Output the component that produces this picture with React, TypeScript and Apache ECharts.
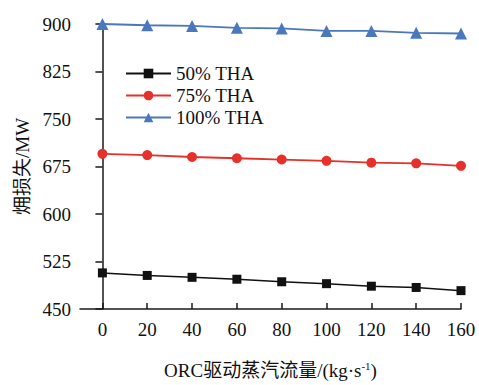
import { useEffect, useRef } from "react";
import * as echarts from "echarts";

// ORC driving steam flow rate (kg/s)
const flowRates = [0, 20, 40, 60, 80, 100, 120, 140, 160];

// Exergy loss (MW) at each turbine heat acceptance load
const tha50 = [507, 503, 500, 497, 493, 490, 486, 484, 479];
const tha75 = [695, 693, 690, 688, 686, 684, 681, 680, 676];
const tha100 = [900, 898, 897, 894, 893, 889, 889, 886, 885];

const seriesNames = ["50% THA", "75% THA", "100% THA"];

const FONT = "Liberation Serif, Noto Sans CJK SC, serif";
const AXIS_COLOR = "#1a1a1a";

export default function App() {
  const ref = useRef<HTMLDivElement>(null);

  useEffect(() => {
    if (!ref.current) return;
    const chart = echarts.init(ref.current, undefined, { renderer: "svg" });

    const toPoints = (vals: number[]) => flowRates.map((x, i) => [x, vals[i]]);

    chart.setOption({
      animation: false,
      backgroundColor: "#ffffff",
      grid: { left: 80, right: 18, top: 24, bottom: 71, containLabel: false },
      legend: {
        orient: "vertical",
        left: 120,
        top: 59,
        itemWidth: 45,
        itemHeight: 12,
        itemGap: 3,
        data: seriesNames,
        textStyle: { fontFamily: FONT, fontSize: 19, color: "#111" },
      },
      xAxis: {
        type: "value",
        min: -10,
        max: 160,
        name: "ORC驱动蒸汽流量/(kg·s{sup|-1})",
        nameLocation: "middle",
        nameGap: 51,
        nameTextStyle: {
          fontFamily: FONT,
          fontSize: 19,
          color: "#111",
          rich: {
            sup: { fontFamily: FONT, fontSize: 11, color: "#111", padding: [0, 0, 10, 0] },
          },
        },
        axisLine: { show: true, lineStyle: { color: AXIS_COLOR, width: 1.5 } },
        axisTick: {
          show: true,
          inside: true,
          length: 6,
          customValues: flowRates,
          lineStyle: { color: AXIS_COLOR, width: 1.5 },
        },
        axisLabel: {
          customValues: flowRates,
          margin: 11,
          fontFamily: FONT,
          fontSize: 19,
          color: "#111",
        },
        splitLine: { show: false },
      },
      yAxis: {
        type: "value",
        min: 450,
        max: 900,
        interval: 75,
        name: "㶲损失/MW",
        nameLocation: "middle",
        nameGap: 43,
        nameTextStyle: { fontFamily: FONT, fontSize: 19, color: "#111" },
        axisLine: { show: true, lineStyle: { color: AXIS_COLOR, width: 1.5 } },
        axisTick: { show: true, inside: false, length: 7, lineStyle: { color: AXIS_COLOR, width: 1.5 } },
        axisLabel: { margin: 9, fontFamily: FONT, fontSize: 19, color: "#111" },
        splitLine: { show: false },
      },
      series: [
        {
          name: seriesNames[0],
          type: "line",
          data: toPoints(tha50),
          symbol: "rect",
          symbolSize: 9,
          itemStyle: { color: "#111111" },
          lineStyle: { color: "#111111", width: 1.5 },
        },
        {
          name: seriesNames[1],
          type: "line",
          data: toPoints(tha75),
          symbol: "circle",
          symbolSize: 10,
          itemStyle: { color: "#e5312a" },
          lineStyle: { color: "#e5312a", width: 1.8 },
        },
        {
          name: seriesNames[2],
          type: "line",
          data: toPoints(tha100),
          symbol: "triangle",
          symbolSize: 12,
          itemStyle: { color: "#4a78bd" },
          lineStyle: { color: "#4a78bd", width: 1.8 },
        },
      ],
    });

    return () => chart.dispose();
  }, []);

  return (
    <div
      ref={ref}
      style={{ position: "fixed", left: 0, top: 0, width: 479, height: 385 }}
    />
  );
}
